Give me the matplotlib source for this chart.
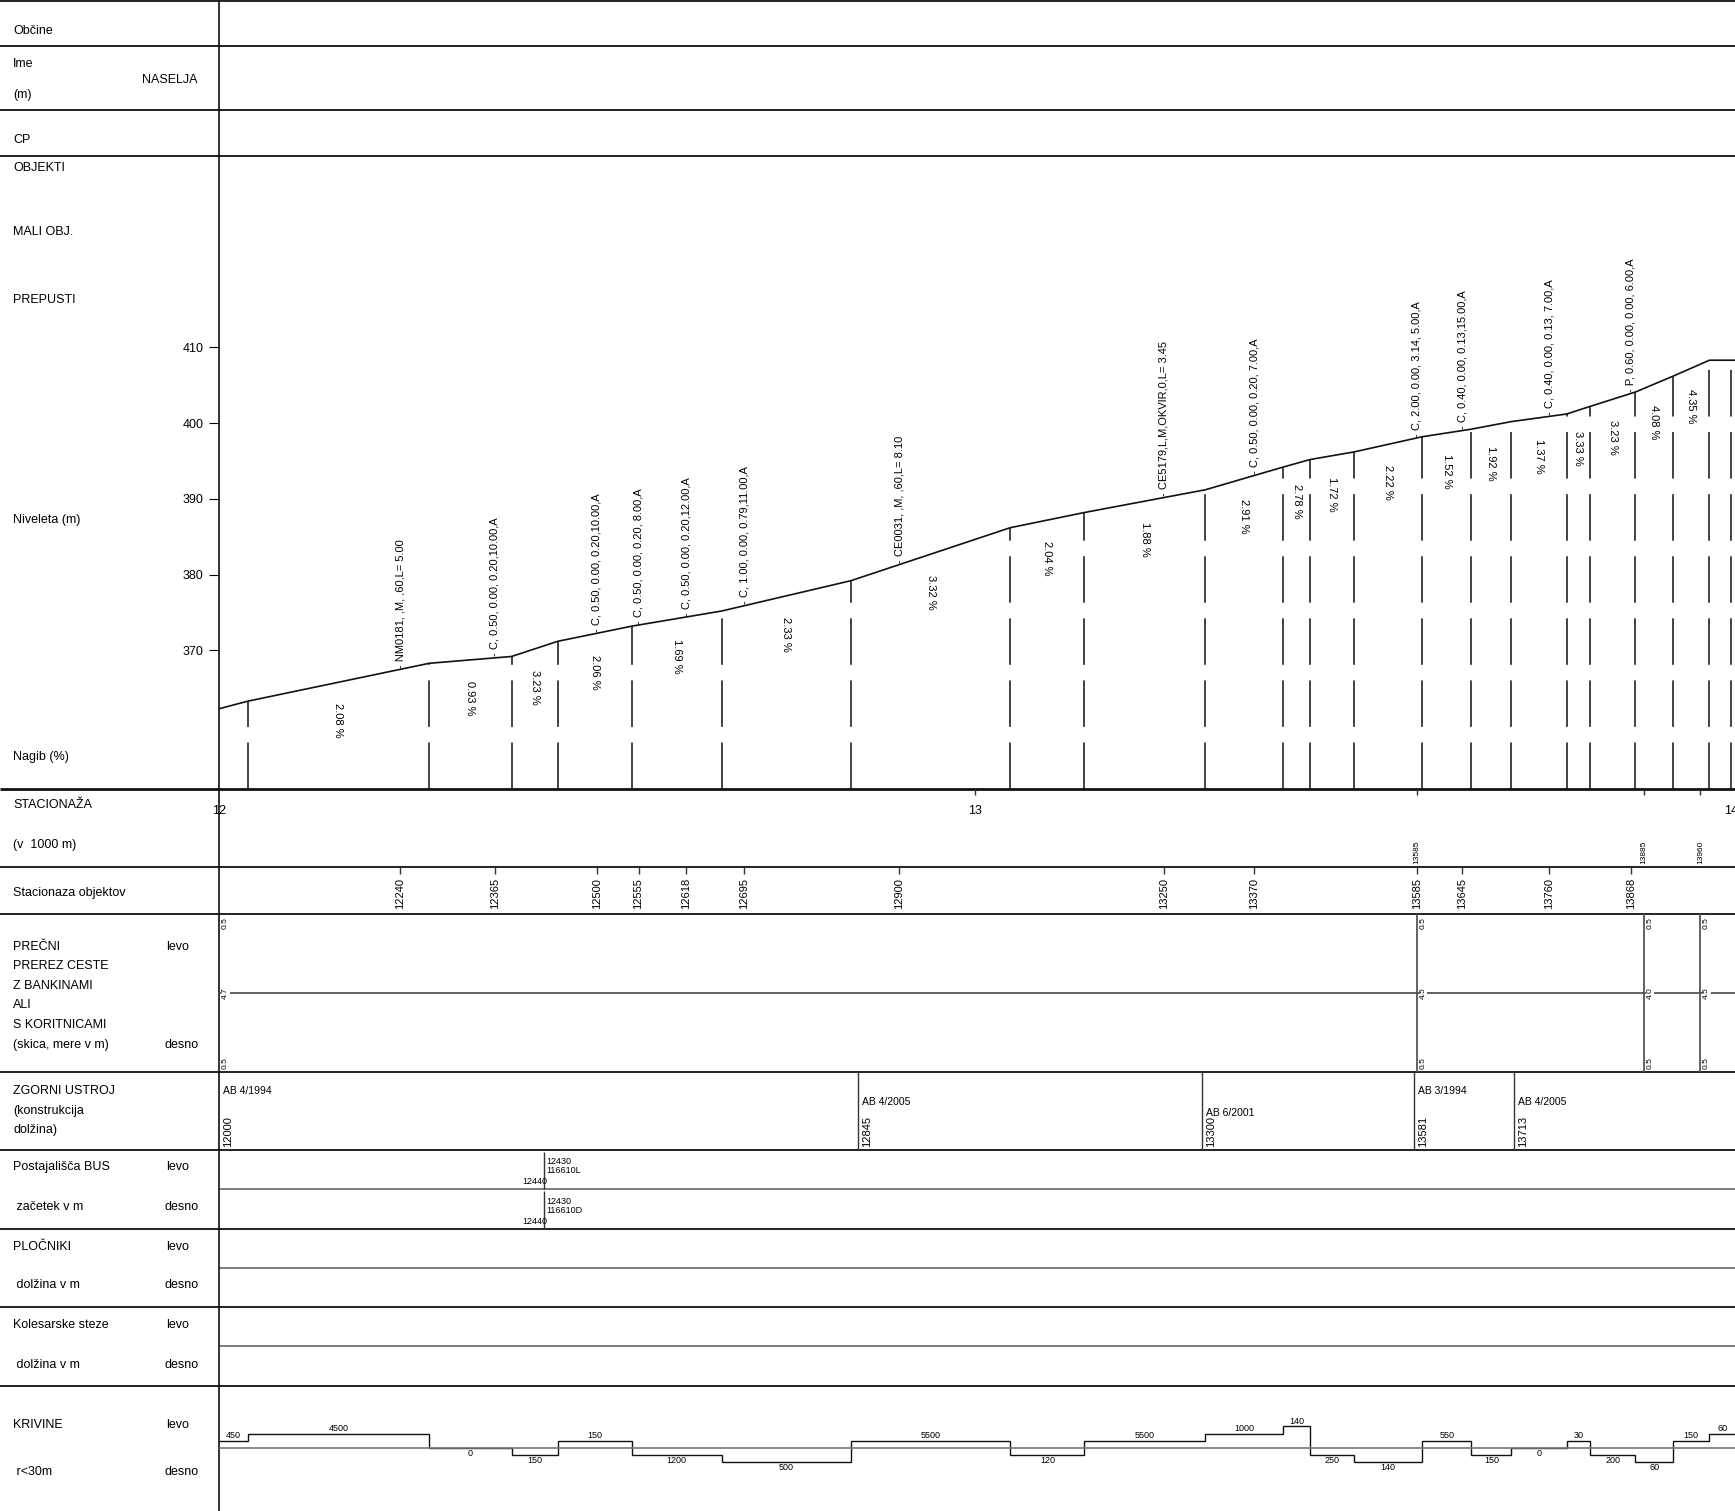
import numpy as np
import matplotlib
matplotlib.use("Agg")
import matplotlib.pyplot as plt

plt.rcParams['font.family'] = ['Liberation Sans', 'DejaVu Sans']
plt.rcParams['lines.scale_dashes'] = False

# --- niveleta (station m, elevation m) ---
niv_st = [12000, 12038, 12278, 12387, 12448, 12546, 12665, 12836, 13047, 13145,
          13305, 13408, 13444, 13502, 13592, 13657, 13710, 13783, 13814, 13874,
          13924, 13972, 14006]
niv_z = [362.3, 363.3, 368.3, 369.2, 371.2, 373.2, 375.2, 379.2, 386.2, 388.2,
         391.2, 394.2, 395.2, 396.2, 398.2, 399.2, 400.2, 401.2, 402.2, 404.1,
         406.2, 408.3, 408.3]
nagib = [None, "2.08", "0.93", "3.23", "2.06", "1.69", "2.33", "3.32", "2.04", "1.88",
         "2.91", "2.78", "1.72", "2.22", "1.52", "1.92", "1.37", "3.33", "3.23", "4.08",
         "4.35", None]
lom_st = niv_st[1:-1] + [14000]

# --- objekti (prepusti, mali objekti) ---
obj_st = [12240, 12365, 12500, 12555, 12618, 12695, 12900, 13250, 13370, 13585,
          13645, 13760, 13868]
obj_lab = ["NM0181, ,M, ,60,L= 5.00",
           "C, 0.50, 0.00, 0.20,10.00,A",
           "C, 0.50, 0.00, 0.20,10.00,A",
           "C, 0.50, 0.00, 0.20, 8.00,A",
           "C, 0.50, 0.00, 0.20,12.00,A",
           "C, 1.00, 0.00, 0.79,11.00,A",
           "CE0031, ,M, ,60,L= 8.10",
           "CE5179,L,M,OKVIR,0,L= 3.45",
           "C, 0.50, 0.00, 0.20, 7.00,A",
           "C, 2.00, 0.00, 3.14, 5.00,A",
           "C, 0.40, 0.00, 0.13,15.00,A",
           "C, 0.40, 0.00, 0.13, 7.00,A",
           "P, 0.60, 0.00, 0.00, 6.00,A"]

# --- stacionaza ---
km_st = [12000, 13000, 14000]
km_lab = ["12", "13", "14"]
mark_st = [13585, 13885, 13960]

# --- precni prerez ---
pp_st = [12000, 13585, 13885, 13960]
pp_levo = ["0.5", "0.5", "0.5", "0.5"]
pp_sirina = ["4.7", "4.5", "4.0", "4.5"]
pp_desno = ["0.5", "0.5", "0.5", "0.5"]

# --- zgornji ustroj ---
zu_st = [12000, 12845, 13300, 13581, 13713]
zu_lab = ["AB 4/1994", "AB 4/2005", "AB 6/2001", "AB 3/1994", "AB 4/2005"]

# --- postajalisca BUS ---
bus_st = 12430
bus_levo = ["12430", "116610L", "12440"]
bus_desno = ["12430", "116610D", "12440"]

# --- krivine ---
kr_r = [450, 4500, 0, 150, 150, 1200, 500, 5500, 120, 5500, 1000,
        140, 250, 140, 550, 150, 0, 30, 200, 60, 150, 60]
kr_stran = [1, 1, 0, -1, 1, -1, -1, 1, -1, 1, 1,
            1, -1, -1, 1, -1, 0, 1, -1, -1, 1, 1]
kr_nivo = [1, 2, 0, 1, 1, 1, 2, 1, 1, 1, 2,
           3, 1, 2, 1, 1, 0, 1, 1, 2, 1, 2]

# --- layout (reference pixel rows) ---
W, H = 1568.0, 1366.0
X_FRAME = 198.0
K = (1564.0 - X_FRAME) / 2000.0       # px per metre
X0 = 12000 - X_FRAME / K
X1 = 12000 + (W - X_FRAME) / K


def col(px):
    return X0 + px / K


full_lines = [0.5, 42, 99, 141, 784, 826, 969, 1040, 1111, 1182, 1253]
part_lines = [1075, 1146, 1217]

labels = [("Občine", 12, 28), ("Ime", 12, 58), ("NASELJA", 128, 72), ("(m)", 12, 86),
          ("CP", 12, 127), ("OBJEKTI", 12, 152), ("MALI OBJ.", 12, 210),
          ("PREPUSTI", 12, 271), ("Niveleta (m)", 12, 470), ("Nagib (%)", 12, 684),
          ("STACIONAŽA", 12, 728), ("(v  1000 m)", 12, 764),
          ("Stacionaza objektov", 12, 807),
          ("PREČNI", 12, 856), ("levo", 150, 856), ("PREREZ CESTE", 12, 873),
          ("Z BANKINAMI", 12, 891), ("ALI", 12, 909), ("S KORITNICAMI", 12, 927),
          ("(skica, mere v m)", 12, 945), ("desno", 149, 945),
          ("ZGORNI USTROJ", 12, 986), ("(konstrukcija", 12, 1004), ("dolžina)", 12, 1022),
          ("Postajališča BUS", 12, 1055), ("levo", 150, 1055),
          (" začetek v m", 12, 1091), ("desno", 149, 1091),
          ("PLOČNIKI", 12, 1127), ("levo", 150, 1127),
          (" dolžina v m", 12, 1162), ("desno", 149, 1162),
          ("Kolesarske steze", 12, 1198), ("levo", 150, 1198),
          (" dolžina v m", 12, 1234), ("desno", 149, 1234),
          ("KRIVINE", 12, 1288), ("levo", 150, 1288),
          (" r<30m", 12, 1331), ("desno", 149, 1331)]

fig = plt.figure(figsize=(17.35, 15.11), dpi=100)

# background grid of the table
ax = fig.add_axes([0, 0, 1, 1])
ax.set_xlim(X0, X1)
ax.set_ylim(H, 0)
ax.axis('off')

ax.hlines(full_lines, X0, X1, colors='#111', lw=1.3)
ax.hlines(713, X0, X1, colors='#111', lw=2.0)
ax.hlines(part_lines, 12000, X1, colors='#666', lw=1.2)
ax.vlines(12000, 0, H, colors='#111', lw=1.2)

for txt, x, y in labels:
    ax.text(col(x), y, txt, fontsize=9, ha='left', va='center')

# stacionaza km labels and marks
for s, t in zip(km_st, km_lab):
    ax.text(s, 733, t, fontsize=9, ha='center', va='center')
ax.vlines([13000] + mark_st, 713, 719, colors='#333', lw=1)
for s in mark_st:
    ax.text(s, 781, str(s), rotation=90, fontsize=6, ha='center', va='bottom')

# stacionaza objektov
ax.vlines(obj_st, 784, 790, colors='#333', lw=1)
for s in obj_st:
    ax.text(s, 822, str(s), rotation=90, fontsize=8, ha='center', va='bottom')

# precni prerez
ax.hlines(898, 12000, X1, colors='#555', lw=1.3)
ax.vlines(pp_st[1:], 826, 969, colors='#555', lw=1.3)
for s, a, b, c in zip(pp_st, pp_levo, pp_sirina, pp_desno):
    ax.annotate(a, (s, 829), xytext=(2, 0), textcoords='offset points',
                rotation=90, fontsize=6, ha='left', va='top')
    ax.annotate(b, (s, 898), xytext=(2, 0), textcoords='offset points',
                rotation=90, fontsize=6, ha='left', va='center',
                bbox=dict(facecolor='white', edgecolor='none', pad=0.5))
    ax.annotate(c, (s, 966), xytext=(2, 0), textcoords='offset points',
                rotation=90, fontsize=6, ha='left', va='bottom')

# zgornji ustroj
ax.vlines(zu_st[1:], 969, 1040, colors='#333', lw=1)
name_rows = [986, 996, 1006]
for i, (s, t) in enumerate(zip(zu_st, zu_lab)):
    ax.annotate(t, (s, name_rows[i % 3]), xytext=(3, 0), textcoords='offset points',
                fontsize=7.5, ha='left', va='center')
    ax.annotate(str(s), (s, 1037), xytext=(3, 0), textcoords='offset points',
                rotation=90, fontsize=8, ha='left', va='bottom')

# postajalisca BUS
for (ytop, ybot), lab in zip([(1041, 1075), (1077, 1111)], [bus_levo, bus_desno]):
    ax.vlines(bus_st, ytop, ybot, colors='#333', lw=1)
    ax.annotate(lab[0], (bus_st, ytop + 9), xytext=(1.5, 0), textcoords='offset points',
                fontsize=6.5, ha='left', va='center')
    ax.annotate(lab[1], (bus_st, ytop + 17), xytext=(1.5, 0), textcoords='offset points',
                fontsize=6.5, ha='left', va='center')
    ax.annotate(lab[2], (bus_st, ytop + 27), xytext=(2, 0), textcoords='offset points',
                fontsize=6.5, ha='right', va='center')

# niveleta profile
z_bot = 370 - (713 - 588) / 6.85
z_top = 370 + (588 - 141) / 6.85
axp = fig.add_axes([X_FRAME / W, 1 - 713 / H, 1 - X_FRAME / W, (713 - 141) / H])
axp.set_xlim(12000, X1)
axp.set_ylim(z_bot, z_top)
axp.patch.set_visible(False)
for sp in axp.spines.values():
    sp.set_visible(False)
axp.set_xticks([])
axp.set_yticks([370, 380, 390, 400, 410])
axp.tick_params(axis='y', direction='out', length=7, width=0.8, pad=4, labelsize=9)

axp.plot(niv_st, niv_z, color='#111', lw=1.2)
lom_z = np.interp(lom_st, niv_st, niv_z)
axp.vlines(lom_st, z_bot, lom_z, colors='#111', lw=1.1, linestyles=[(0, (33.5, 11.2))])

for s0, s1, g in zip(niv_st[:-1], niv_st[1:], nagib):
    if g is None:
        continue
    m = 0.5 * (s0 + s1)
    zm = np.interp(m, niv_st, niv_z)
    axp.annotate(f"{g} %", (m, zm), xytext=(0, -15), textcoords='offset points',
                 rotation=270, fontsize=8, ha='center', va='top')

for s, t in zip(obj_st, obj_lab):
    zs = np.interp(s, niv_st, niv_z)
    axp.annotate("- " + t, (s, zs), xytext=(0, 1), textcoords='offset points',
                 rotation=90, fontsize=8, ha='center', va='bottom')

# krivine
axk = fig.add_axes([X_FRAME / W, 0, 1 - X_FRAME / W, (H - 1253) / H])
axk.set_xlim(12000, X1)
axk.set_ylim(-(H - 1309) / 6.5, (1309 - 1253) / 6.5)
axk.axis('off')
kr_lvl = np.array(kr_stran) * np.array(kr_nivo)
axk.axhline(0, color='#777', lw=1.2)
axk.stairs(kr_lvl, niv_st, baseline=None, color='#111', lw=1.0)
for s0, s1, r, lv in zip(niv_st[:-1], niv_st[1:], kr_r, kr_lvl):
    m = 0.5 * (s0 + s1)
    if lv > 0:
        axk.annotate(str(r), (m, lv), xytext=(0, 0.5), textcoords='offset points',
                     fontsize=6.5, ha='center', va='bottom')
    else:
        axk.annotate(str(r), (m, lv), xytext=(0, -0.5), textcoords='offset points',
                     fontsize=6.5, ha='center', va='top')

fig.savefig('out.png', dpi=100)
